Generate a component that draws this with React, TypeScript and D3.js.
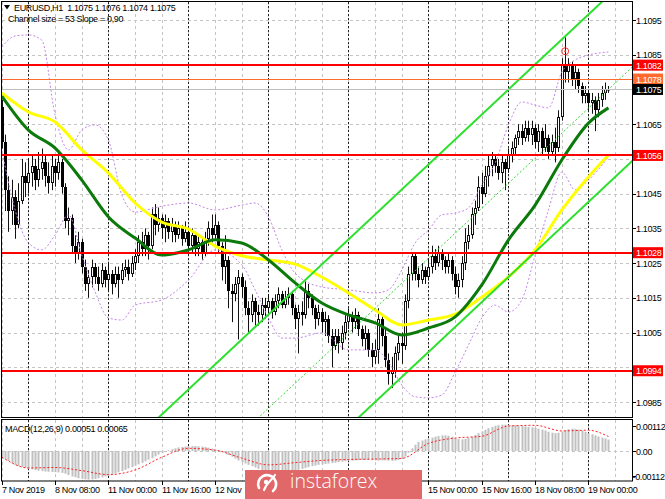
import React, { useEffect } from 'react';
import * as d3 from 'd3';

// ---------- DATA (EURUSD H1, 7 Nov 16:00 -> 19 Nov 06:00) ----------
const firstOpen = 1.107;
const closes = [
  // 7 Nov 16:00-23:00
  1.1060, 1.1046, 1.1040, 1.1044, 1.1036, 1.1043, 1.1050, 1.1048,
  // 8 Nov
  1.1051, 1.1053, 1.1049, 1.1052, 1.1054, 1.1050, 1.1048, 1.1053, 1.1051, 1.1054, 1.1047, 1.1037,
  1.1038, 1.1030, 1.1028, 1.1031, 1.1024, 1.1019, 1.1021, 1.1024, 1.1021, 1.1019, 1.1023, 1.1020,
  // 11 Nov
  1.1022, 1.1019, 1.1022, 1.1020, 1.1023, 1.1024, 1.1022, 1.1025, 1.1027, 1.1031, 1.1029, 1.1033,
  1.1030, 1.1039, 1.1036, 1.1038, 1.1035, 1.1037, 1.1034, 1.1036, 1.1033, 1.1035, 1.1032, 1.1034,
  // 12 Nov
  1.1030, 1.1033, 1.1029, 1.1031, 1.1028, 1.1032, 1.1035, 1.1033, 1.1036, 1.1030, 1.1024, 1.1026,
  1.1017, 1.1016, 1.1019, 1.1021, 1.1018, 1.1012, 1.1010, 1.1014, 1.1011, 1.1010, 1.1013, 1.1012,
  // 13 Nov
  1.1014, 1.1011, 1.1014, 1.1016, 1.1013, 1.1015, 1.1016, 1.1012, 1.1009, 1.1011, 1.1010, 1.1017,
  1.1015, 1.1012, 1.1009, 1.1011, 1.1008, 1.1009, 1.1004, 1.1001, 1.1004, 1.1002, 1.1005, 1.1008,
  // 14 Nov
  1.1010, 1.1008, 1.1010, 1.1006, 1.1003, 1.1005, 1.1000, 1.0998, 1.1000, 1.1009, 1.1004, 1.0997,
  1.0993, 1.0994, 1.0999, 1.1002, 1.1001, 1.1014, 1.1022, 1.1027, 1.1022, 1.1020, 1.1023, 1.1021,
  // 15 Nov
  1.1024, 1.1027, 1.1025, 1.1028, 1.1026, 1.1024, 1.1026, 1.1022, 1.1018, 1.1020, 1.1025, 1.1031,
  1.1033, 1.1039, 1.1041, 1.1047, 1.1045, 1.1050, 1.1053, 1.1055, 1.1053, 1.1051, 1.1054, 1.1052,
  // 18 Nov
  1.1056, 1.1058, 1.1061, 1.1063, 1.1061, 1.1064, 1.1062, 1.1064, 1.1060, 1.1063, 1.1058, 1.1061,
  1.1057, 1.1060, 1.1058, 1.1067, 1.1082, 1.1080, 1.1082, 1.1078, 1.1080, 1.1076, 1.1073, 1.1074,
  // 19 Nov
  1.1071, 1.1072, 1.1069, 1.1072, 1.1074, 1.1075, 1.1075,
];
const highs = [
  1.1072, 1.1062, 1.1050, 1.1049, 1.1046, 1.1048, 1.1055, 1.1054,
  1.1055, 1.1056, 1.1055, 1.1057, 1.1058, 1.1056, 1.1054, 1.1056, 1.1055, 1.1057, 1.1055, 1.1048,
  1.1041, 1.1039, 1.1033, 1.1034, 1.1032, 1.1026, 1.1023, 1.1026, 1.1025, 1.1024, 1.1025, 1.1024,
  1.1025, 1.1023, 1.1024, 1.1024, 1.1025, 1.1026, 1.1026, 1.1027, 1.1029, 1.1033, 1.1034, 1.1035,
  1.1034, 1.1041, 1.1042, 1.1041, 1.1039, 1.1039, 1.1038, 1.1038, 1.1037, 1.1037, 1.1036, 1.1037,
  1.1035, 1.1035, 1.1034, 1.1033, 1.1032, 1.1034, 1.1037, 1.1039, 1.1039, 1.1037, 1.1031, 1.1033,
  1.1027, 1.1019, 1.1021, 1.1023, 1.1022, 1.1020, 1.1014, 1.1016, 1.1015, 1.1013, 1.1015, 1.1015,
  1.1016, 1.1015, 1.1016, 1.1018, 1.1017, 1.1017, 1.1018, 1.1017, 1.1013, 1.1013, 1.1014, 1.1020,
  1.1019, 1.1016, 1.1013, 1.1013, 1.1012, 1.1011, 1.1010, 1.1006, 1.1006, 1.1006, 1.1007, 1.1010,
  1.1012, 1.1011, 1.1012, 1.1011, 1.1007, 1.1007, 1.1006, 1.1002, 1.1003, 1.1012, 1.1010, 1.1006,
  1.0999, 1.0998, 1.1001, 1.1004, 1.1005, 1.1016, 1.1024, 1.1028, 1.1028, 1.1024, 1.1025, 1.1024,
  1.1026, 1.1030, 1.1029, 1.1030, 1.1029, 1.1027, 1.1028, 1.1027, 1.1024, 1.1022, 1.1027, 1.1035,
  1.1036, 1.1041, 1.1043, 1.1050, 1.1051, 1.1053, 1.1056, 1.1057, 1.1056, 1.1055, 1.1056, 1.1055,
  1.1058, 1.1060, 1.1062, 1.1065, 1.1065, 1.1066, 1.1066, 1.1066, 1.1065, 1.1065, 1.1064, 1.1065,
  1.1062, 1.1062, 1.1064, 1.1069, 1.1084, 1.1090, 1.1084, 1.1083, 1.1082, 1.1081, 1.1077, 1.1076,
  1.1075, 1.1074, 1.1073, 1.1074, 1.1076, 1.1077, 1.1076,
];
const lows = [
  1.1058, 1.1040, 1.1034, 1.1036, 1.1032, 1.1035, 1.1042, 1.1044,
  1.1045, 1.1047, 1.1046, 1.1047, 1.1049, 1.1047, 1.1045, 1.1046, 1.1047, 1.1049, 1.1045, 1.1035,
  1.1033, 1.1028, 1.1025, 1.1026, 1.1022, 1.1017, 1.1015, 1.1018, 1.1019, 1.1017, 1.1018, 1.1018,
  1.1017, 1.1016, 1.1018, 1.1015, 1.1019, 1.1021, 1.1020, 1.1021, 1.1023, 1.1025, 1.1027, 1.1027,
  1.1026, 1.1029, 1.1033, 1.1034, 1.1032, 1.1031, 1.1032, 1.1031, 1.1031, 1.1032, 1.1030, 1.1031,
  1.1028, 1.1028, 1.1027, 1.1027, 1.1026, 1.1027, 1.1030, 1.1031, 1.1032, 1.1028, 1.1020, 1.1019,
  1.1012, 1.1008, 1.1014, 1.1003, 1.1015, 1.1010, 1.1005, 1.1008, 1.1007, 1.1007, 1.1008, 1.1009,
  1.1010, 1.1009, 1.1010, 1.1012, 1.1012, 1.1012, 1.1013, 1.1010, 1.1006, 1.0999, 1.1007, 1.1009,
  1.1012, 1.1010, 1.1006, 1.1007, 1.1005, 1.1004, 1.1002, 1.0995, 1.1000, 1.0999, 1.1000, 1.1003,
  1.1006, 1.1005, 1.1006, 1.1004, 1.1001, 1.1000, 1.0998, 1.0995, 1.0996, 1.0996, 1.1001, 1.0995,
  1.0990, 1.0989, 1.0992, 1.0997, 1.0996, 1.1000, 1.1012, 1.1020, 1.1020, 1.1018, 1.1019, 1.1019,
  1.1020, 1.1022, 1.1023, 1.1024, 1.1023, 1.1022, 1.1022, 1.1020, 1.1016, 1.1015, 1.1018, 1.1023,
  1.1029, 1.1032, 1.1036, 1.1040, 1.1042, 1.1044, 1.1047, 1.1050, 1.1051, 1.1049, 1.1048, 1.1046,
  1.1051, 1.1054, 1.1056, 1.1059, 1.1059, 1.1060, 1.1060, 1.1059, 1.1058, 1.1057, 1.1056, 1.1057,
  1.1055, 1.1056, 1.1054, 1.1057, 1.1066, 1.1077, 1.1077, 1.1076, 1.1075, 1.1074, 1.1071, 1.1071,
  1.1069, 1.1068, 1.1063, 1.1067, 1.1070, 1.1072, 1.1074,
];

// Moving averages, sampled at bar indices
const maIdx = [0, 8, 16, 24, 32, 40, 48, 56, 64, 72, 80, 88, 96, 104, 112, 120, 128, 136, 144, 152, 160, 168, 176, 182];
const maSlow = [1.1074, 1.10685, 1.10656, 1.10576, 1.10509, 1.10423, 1.10368, 1.10348, 1.10299, 1.10271, 1.10259, 1.10247,
  1.1021, 1.10164, 1.10115, 1.10072, 1.10086, 1.10103, 1.10152, 1.1021, 1.10288, 1.10403, 1.10498, 1.10561];
const maFast = [1.10731, 1.10633, 1.10581, 1.10489, 1.10383, 1.10322, 1.10273, 1.10288, 1.10317, 1.10308, 1.10259, 1.10193,
  1.10135, 1.10101, 1.10078, 1.10043, 1.10063, 1.10095, 1.10187, 1.10317, 1.10417, 1.10547, 1.10653, 1.10697];

// Bollinger bands, sampled
const bbIdx = [0, 4, 8, 12, 16, 20, 24, 28, 32, 36, 40, 48, 56, 64, 72, 76, 80, 84, 88, 96, 104, 112, 116, 120, 124, 128,
  132, 136, 140, 144, 148, 152, 156, 160, 164, 168, 172, 176, 182];
const bbUpper = [1.10872, 1.10904, 1.10907, 1.10892, 1.10676, 1.10576, 1.10633, 1.10648, 1.10604, 1.10446, 1.10397, 1.10414,
  1.10423, 1.10403, 1.10417, 1.10423, 1.10383, 1.10288, 1.10221, 1.10181, 1.10173, 1.10164, 1.10173, 1.1023, 1.10308, 1.10345,
  1.10389, 1.10394, 1.10409, 1.10475, 1.10538, 1.10648, 1.10714, 1.10705, 1.10697, 1.108, 1.10835, 1.10849, 1.10858];
const bbLower = [1.10576, 1.10403, 1.10308, 1.10288, 1.10331, 1.10389, 1.10273, 1.10167, 1.10092, 1.10086, 1.10129, 1.10144,
  1.10201, 1.10288, 1.10245, 1.10173, 1.10092, 1.10034, 1.10034, 1.10049, 1.1, 1.1, 1.09965, 1.09899, 1.09865, 1.09862,
  1.0987, 1.09936, 1.10014, 1.10092, 1.10129, 1.10109, 1.10144, 1.10273, 1.10403, 1.10512, 1.10461, 1.10489, 1.10556];

// MACD (12,26,9) main histogram per bar, in units of 0.00001
const macdMainE5 = [
  -25, -35, -45, -55, -62, -68, -72, -76,
  -80, -82, -85, -88, -90, -92, -93, -94, -95, -96, -98, -102,
  -108, -114, -118, -122, -125, -127, -128, -127, -125, -122, -118, -114,
  -110, -105, -100, -95, -90, -84, -78, -72, -66, -60, -53, -46,
  -39, -32, -24, -16, -9, -3, 3, 8, 12, 16, 18, 20,
  21, 22, 22, 21, 20, 18, 15, 11, 7, 2, -4, -10,
  -18, -26, -34, -42, -50, -56, -62, -68, -74, -80, -85, -90,
  -92, -94, -95, -95, -94, -92, -90, -88, -86, -84, -80, -76,
  -72, -68, -65, -62, -60, -58, -56, -54, -52, -50, -48, -46,
  -44, -43, -42, -41, -40, -40, -40, -41, -42, -43, -42, -42,
  -43, -44, -43, -40, -36, -25, -8, 12, 28, 40, 47, 52,
  55, 60, 64, 67, 70, 70, 68, 64, 58, 54, 52, 54,
  58, 64, 72, 80, 88, 95, 102, 108, 113, 116, 118, 118,
  117, 116, 115, 113, 112, 110, 108, 106, 104, 100, 96, 92,
  86, 82, 80, 82, 88, 94, 98, 100, 99, 96, 92, 86,
  80, 75, 70, 65, 60, 56, 51,
];
// signal line sampled at maIdx, units of 0.00001
const macdSignalE5 = [-27, -76, -74, -88, -106, -85, -28, 12, 4, -32, -62, -52, -42, -38, -36, -33, 34, 58, 66, 112, 115, 90, 93, 65];

// Levels
const redLevels = [1.1082, 1.1056, 1.1028, 1.0994];
const orangeLevel = 1.1078;
const bidLevel = 1.1075;
const priceTicks = [1.0985, 1.0995, 1.1005, 1.1015, 1.1025, 1.1035, 1.1045, 1.1055, 1.1065, 1.1075, 1.1085, 1.1095];
const macdTicks = [0.00112, 0, -0.00112];

// Regression channel
const channelAnchorBar = 117;
const channelLowerAtAnchor = 1.09895;
const channelSlopePerBar = 0.00009;
const channelSize = 0.0054;

const timeLabelIdx = [0, 16, 32, 48, 64, 128, 144, 160, 176];
const timeLabels = ['7 Nov 2019', '8 Nov 08:00', '11 Nov 00:00', '11 Nov 16:00', '12 Nov', '15 Nov 00:00',
  '15 Nov 16:00', '18 Nov 08:00', '19 Nov 00:00'];
const timeTickIdx = [0, 16, 32, 48, 64, 80, 96, 112, 128, 144, 160, 176];
const daySeparatorIdx = [8, 32, 56, 80, 104, 128, 152, 176];
const alertBar = 169;
const alertPrice = 1.1086;

// ---------- LAYOUT ----------
const W = 665, H = 499;
const PL = 2, PR = 632, MT = 2, MB = 417.5, DT = 420, DB = 481;
const FONT = 'Liberation Sans, Arial, sans-serif';

export default function App() {
  useEffect(() => { document.body.style.margin = '0'; }, []);

  const x = d3.scaleLinear().domain([0, 189]).range([1.8, 631.8]);
  const y = d3.scaleLinear().domain([1.0985, 1.1095]).range([402, 20]);
  const ym = d3.scaleLinear().domain([-0.00112, 0.00112]).range([476, 426]);
  const px = (i: number) => Math.round(x(i)) + 0.5;
  const opens = closes.map((c, i) => (i === 0 ? firstOpen : closes[i - 1]));

  const sampled = (idx: number[], vals: number[], ys: (v: number) => number) =>
    d3.line<number>().x((_, k) => x(idx[k])).y((v) => ys(v)).curve(d3.curveMonotoneX)(vals) || '';

  const chLine = (off: number) => {
    const p = (b: number) => channelLowerAtAnchor + off + (b - channelAnchorBar) * channelSlopePerBar;
    return d3.line<number>().x((b) => x(b)).y((b) => y(p(b)))([-10, 200]) || '';
  };

  const levelBoxes = [...redLevels, orangeLevel, bidLevel];
  const visibleTicks = priceTicks.filter((p) => levelBoxes.every((l) => Math.abs(y(p) - y(l)) > 8));

  const gridX = d3.range(0, 190, 8);
  const txt = { fontFamily: FONT, fontSize: 9, letterSpacing: -0.35 } as React.CSSProperties;

  return (
    <svg width={W} height={H} style={{ position: 'absolute', left: 0, top: 0, background: '#fff' }}>
      <defs>
        <clipPath id="mainClip"><rect x={PL} y={MT} width={PR - PL} height={MB - MT} /></clipPath>
        <clipPath id="macdClip"><rect x={PL} y={DT} width={PR - PL} height={DB - DT} /></clipPath>
      </defs>
      <rect x={0} y={0} width={W} height={H} fill="#fff" />

      {/* main grid */}
      <g clipPath="url(#mainClip)">
        {priceTicks.map((p) => (
          <line key={'hg' + p} x1={PL} x2={PR} y1={Math.round(y(p)) + 0.5} y2={Math.round(y(p)) + 0.5}
            stroke="#c4c4c4" strokeDasharray="3,3" />
        ))}
        {gridX.map((i) => (
          <line key={'vg' + i} x1={px(i)} x2={px(i)} y1={MT} y2={MB} stroke="#c4c4c4" strokeDasharray="3,3" />
        ))}
        {daySeparatorIdx.map((i) => (
          <line key={'ds' + i} x1={px(i)} x2={px(i)} y1={MT} y2={MB} stroke="#222" strokeDasharray="2,2" />
        ))}

        {/* candles */}
        {closes.map((c, i) => {
          const o = opens[i];
          const cx = Math.round(x(i));
          const top = Math.round(y(Math.max(o, c)));
          const bot = Math.round(y(Math.min(o, c)));
          const hgt = Math.max(1, bot - top);
          return (
            <g key={'c' + i}>
              <line x1={cx + 0.5} x2={cx + 0.5} y1={y(highs[i])} y2={y(lows[i])} stroke="#111" strokeWidth={1} />
              {c >= o ? (
                <rect x={cx - 0.5} y={top + 0.5} width={2} height={Math.max(0.5, hgt - 1)} fill="#fff" stroke="#111" strokeWidth={1} />
              ) : (
                <rect x={cx - 1} y={top} width={3} height={hgt} fill="#000" />
              )}
            </g>
          );
        })}

        {/* bollinger */}
        <path d={sampled(bbIdx, bbUpper, y)} fill="none" stroke="#c384e8" strokeWidth={1} strokeDasharray="2,2" />
        <path d={sampled(bbIdx, bbLower, y)} fill="none" stroke="#c384e8" strokeWidth={1} strokeDasharray="2,2" />

        {/* moving averages */}
        <path d={sampled(maIdx, maSlow, y)} fill="none" stroke="#ffff00" strokeWidth={3} />
        <path d={sampled(maIdx, maFast, y)} fill="none" stroke="#0b7a0b" strokeWidth={3} />

        {/* channel */}
        <path d={chLine(0)} stroke="#2ee02e" strokeWidth={2} fill="none" />
        <path d={chLine(channelSize)} stroke="#2ee02e" strokeWidth={2} fill="none" />
        <path d={chLine(channelSize / 2)} stroke="#2fd82f" strokeWidth={1} strokeDasharray="2,2" fill="none" />

        {/* horizontal levels */}
        <line x1={PL} x2={PR} y1={Math.round(y(bidLevel)) + 0.5} y2={Math.round(y(bidLevel)) + 0.5} stroke="#bdbdbd" />
        <line x1={PL} x2={PR} y1={Math.round(y(orangeLevel)) + 0.5} y2={Math.round(y(orangeLevel)) + 0.5} stroke="#ff6a2e" />
        {redLevels.map((p) => (
          <line key={'rl' + p} x1={PL} x2={PR} y1={Math.round(y(p))} y2={Math.round(y(p))} stroke="#ff0000" strokeWidth={2} />
        ))}

        {/* alert marker */}
        <circle cx={x(alertBar)} cy={y(alertPrice)} r={3.5} fill="none" stroke="#f03030" strokeWidth={1} />
        <circle cx={x(alertBar)} cy={y(alertPrice)} r={1} fill="#f03030" />
      </g>

      {/* header */}
      <path d="M4,5 L10,5 L7,9.5 Z" fill="#000" />
      <text x={14} y={10.5} style={{ ...txt, whiteSpace: 'pre' }} fill="#000">{'EURUSD,H1  1.1075 1.1076 1.1074 1.1075'}</text>
      <text x={8} y={21.5} style={txt} fill="#000">Channel size = 53 Slope = 0,90</text>

      {/* main frame */}
      <rect x={PL - 0.5} y={MT - 0.5} width={PR - PL + 1} height={MB - MT + 0.5} fill="none" stroke="#000" />

      {/* price axis */}
      {priceTicks.map((p) => (
        <line key={'ptk' + p} x1={PR} x2={PR + 4} y1={Math.round(y(p)) + 0.5} y2={Math.round(y(p)) + 0.5} stroke="#000" />
      ))}
      {visibleTicks.map((p) => (
        <text key={'pt' + p} x={636} y={y(p) + 3.5} style={txt} fill="#000">{p.toFixed(4)}</text>
      ))}
      {redLevels.map((p) => (
        <g key={'rb' + p}>
          <rect x={633} y={y(p) - 5.5} width={30} height={11} fill="#ff0000" />
          <text x={636} y={y(p) + 3.5} style={txt} fill="#fff">{p.toFixed(4)}</text>
        </g>
      ))}
      <rect x={633} y={y(orangeLevel) - 5.5} width={30} height={11} fill="#ff6a2e" />
      <text x={636} y={y(orangeLevel) + 3.5} style={txt} fill="#fff">{orangeLevel.toFixed(4)}</text>
      <rect x={633} y={y(bidLevel) - 5.5} width={30} height={11} fill="#000" />
      <text x={636} y={y(bidLevel) + 3.5} style={txt} fill="#fff">{bidLevel.toFixed(4)}</text>

      {/* MACD panel */}
      <g clipPath="url(#macdClip)">
        {gridX.map((i) => (
          <line key={'mg' + i} x1={px(i)} x2={px(i)} y1={DT} y2={DB} stroke="#c4c4c4" strokeDasharray="3,3" />
        ))}
        {daySeparatorIdx.map((i) => (
          <line key={'md' + i} x1={px(i)} x2={px(i)} y1={DT} y2={DB} stroke="#222" strokeDasharray="2,2" />
        ))}
        <line x1={PL} x2={PR} y1={Math.round(ym(0)) + 0.5} y2={Math.round(ym(0)) + 0.5} stroke="#c4c4c4" strokeDasharray="3,3" />
        {macdMainE5.map((v, i) => {
          const val = v * 1e-5;
          const y0 = ym(0), y1 = ym(val);
          return <rect key={'mh' + i} x={Math.round(x(i)) - 0.5} y={Math.min(y0, y1)} width={2} height={Math.abs(y1 - y0)} fill="#c0c0c0" />;
        })}
        <path d={sampled(maIdx, macdSignalE5.map((v) => v * 1e-5), ym)} fill="none" stroke="#ff2020" strokeWidth={1} strokeDasharray="2,2" />
      </g>
      <text x={5} y={431.5} style={txt} fill="#000">MACD(12,26,9) 0.00051 0.00065</text>
      <rect x={PL - 0.5} y={DT - 0.5} width={PR - PL + 1} height={DB - DT + 0.5} fill="none" stroke="#000" />
      {macdTicks.map((v) => (
        <g key={'mt' + v}>
          <line x1={PR} x2={PR + 4} y1={Math.round(ym(v)) + 0.5} y2={Math.round(ym(v)) + 0.5} stroke="#000" />
          <text x={v < 0 ? 632.5 : 636} y={ym(v) + 3.5} style={txt} fill="#000">{v === 0 ? '0.00' : v.toFixed(5)}</text>
        </g>
      ))}

      {/* time axis */}
      {timeTickIdx.map((i) => (
        <line key={'tt' + i} x1={px(i)} x2={px(i)} y1={DB} y2={DB + 4} stroke="#000" />
      ))}
      {timeLabelIdx.map((i, k) => (
        <text key={'tl' + i} x={px(i) - 0.5} y={493} style={txt} fill="#000">{timeLabels[k]}</text>
      ))}

      {/* instaforex banner */}
      <g>
        <rect x={245} y={470} width={177} height={29} fill="#e16868" />
        <g transform="translate(267,484)" fill="none" stroke="#fff" strokeLinecap="round">
          <path d="M -8,4 A 9 9 0 1 1 6,7" strokeWidth={2.6} />
          <path d="M -3,6 C 0,-2 5,-4 8,-9" strokeWidth={2.2} />
          <circle cx={-1} cy={-2} r={2.2} fill="#fff" stroke="none" />
        </g>
        <text x={290} y={488} fontFamily="Open Sans, Lato, sans-serif" fontWeight={300} fontSize={19.5} fill="#fff">instaforex</text>
      </g>
    </svg>
  );
}
